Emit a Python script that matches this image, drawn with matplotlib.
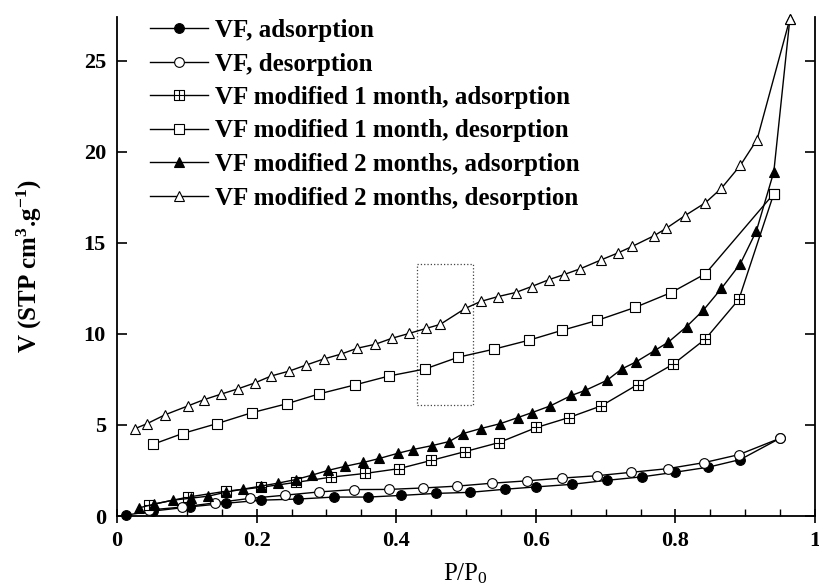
import matplotlib
matplotlib.use("Agg")
import matplotlib.pyplot as plt
from matplotlib.path import Path
from matplotlib.patches import Rectangle
from matplotlib.ticker import MultipleLocator

plt.rcParams['font.family'] = ['Liberation Serif', 'DejaVu Serif']
plt.rcParams['mathtext.default'] = 'regular'

# VF
vf_ads_x = [0.013, 0.051, 0.104, 0.156, 0.207, 0.259, 0.311, 0.36, 0.407, 0.457,
            0.506, 0.556, 0.601, 0.652, 0.702, 0.752, 0.799, 0.847, 0.893, 0.95]
vf_ads_y = [0.05, 0.27, 0.5, 0.7, 0.87, 0.93, 1.04, 1.04, 1.13, 1.24,
            1.3, 1.47, 1.6, 1.74, 1.96, 2.15, 2.4, 2.68, 3.1, 4.27]
vf_des_x = [0.95, 0.891, 0.841, 0.789, 0.737, 0.687, 0.637, 0.587, 0.537, 0.487,
            0.439, 0.389, 0.339, 0.289, 0.24, 0.191, 0.14, 0.093, 0.046]
vf_des_y = [4.27, 3.37, 2.93, 2.6, 2.4, 2.21, 2.08, 1.93, 1.8, 1.64,
            1.54, 1.46, 1.45, 1.32, 1.14, 0.97, 0.72, 0.49, 0.33]

# VF modified 1 month
m1_ads_x = [0.046, 0.102, 0.156, 0.207, 0.257, 0.306, 0.356, 0.404, 0.45, 0.499,
            0.547, 0.601, 0.647, 0.694, 0.746, 0.797, 0.843, 0.891, 0.941]
m1_ads_y = [0.6, 1.04, 1.36, 1.58, 1.85, 2.13, 2.34, 2.6, 3.05, 3.54,
            4.03, 4.86, 5.4, 6.05, 7.22, 8.34, 9.72, 11.9, 17.7]
m1_des_x = [0.941, 0.843, 0.794, 0.742, 0.688, 0.638, 0.59, 0.54, 0.489, 0.441,
            0.39, 0.341, 0.29, 0.243, 0.193, 0.143, 0.094, 0.051]
m1_des_y = [17.7, 13.3, 12.27, 11.45, 10.74, 10.2, 9.65, 9.16, 8.72, 8.07,
            7.69, 7.2, 6.71, 6.16, 5.67, 5.07, 4.53, 3.93]

# VF modified 2 months
m2_ads_x = [0.031, 0.053, 0.08, 0.106, 0.131, 0.156, 0.18, 0.206, 0.23, 0.256,
            0.279, 0.303, 0.327, 0.353, 0.376, 0.402, 0.424, 0.452, 0.476, 0.496,
            0.521, 0.549, 0.574, 0.594, 0.621, 0.651, 0.671, 0.702, 0.723, 0.743,
            0.771, 0.79, 0.816, 0.84, 0.866, 0.893, 0.916, 0.941, 0.964]
m2_ads_y = [0.44, 0.65, 0.87, 0.98, 1.09, 1.31, 1.47, 1.64, 1.8, 2.0,
            2.24, 2.51, 2.73, 2.94, 3.16, 3.44, 3.65, 3.87, 4.09, 4.53,
            4.8, 5.07, 5.4, 5.67, 6.05, 6.62, 6.9, 7.45, 8.07, 8.45,
            9.1, 9.55, 10.4, 11.3, 12.5, 13.85, 15.65, 18.9, 27.3]
m2_des_x = [0.964, 0.917, 0.893, 0.866, 0.843, 0.814, 0.787, 0.77, 0.738, 0.718,
            0.694, 0.664, 0.64, 0.619, 0.594, 0.571, 0.546, 0.521, 0.499, 0.463,
            0.443, 0.419, 0.394, 0.37, 0.344, 0.321, 0.296, 0.271, 0.247, 0.221,
            0.197, 0.173, 0.149, 0.124, 0.102, 0.069, 0.043, 0.026]
m2_des_y = [27.3, 20.67, 19.25, 18.0, 17.2, 16.5, 15.8, 15.4, 14.8, 14.45,
            14.07, 13.58, 13.25, 12.98, 12.6, 12.27, 12.05, 11.78, 11.4, 10.52,
            10.3, 10.03, 9.76, 9.43, 9.21, 8.89, 8.62, 8.29, 7.96, 7.69,
            7.3, 6.98, 6.69, 6.38, 6.05, 5.56, 5.07, 4.8]

labels = ["VF, adsorption", "VF, desorption",
          "VF modified 1 month, adsorption", "VF modified 1 month, desorption",
          "VF modified 2 months, adsorption", "VF modified 2 months, desorption"]

# square with a cross inside
sq_plus = Path([(-1, -1), (1, -1), (1, 1), (-1, 1), (-1, -1),
                (0, -1), (0, 1), (-1, 0), (1, 0)],
               [Path.MOVETO, Path.LINETO, Path.LINETO, Path.LINETO, Path.CLOSEPOLY,
                Path.MOVETO, Path.LINETO, Path.MOVETO, Path.LINETO])

fig = plt.figure(figsize=(8.19, 5.88), dpi=100)
ax = fig.add_axes([117/819, 1 - 516/588, 698/819, 499/588])

series = [(vf_ads_x, vf_ads_y, 'o', 'black'),
          (vf_des_x, vf_des_y, 'o', 'white'),
          (m1_ads_x, m1_ads_y, sq_plus, 'white'),
          (m1_des_x, m1_des_y, 's', 'white'),
          (m2_ads_x, m2_ads_y, '^', 'black'),
          (m2_des_x, m2_des_y, '^', 'white')]

for (xs, ys, mk, fc), lab in zip(series, labels):
    ms = 6.5 if mk is sq_plus else 7
    ax.plot(xs, ys, color='black', lw=1.0, marker=mk, ms=ms, mfc=fc,
            mec='black', mew=0.8, label=lab, clip_on=False, zorder=3)

ax.add_patch(Rectangle((0.43, 6.1), 0.08, 7.75, fill=False, ls=':', lw=0.9,
                       edgecolor='#444444'))

ax.set_xlim(0, 1)
ax.set_ylim(0, 27.4)
ax.spines['top'].set_visible(False)
for s in ['left', 'right', 'bottom']:
    ax.spines[s].set_linewidth(1.3)

ax.xaxis.set_major_locator(MultipleLocator(0.2))
ax.xaxis.set_minor_locator(MultipleLocator(0.05))
ax.yaxis.set_major_locator(MultipleLocator(5))
ax.set_xticks([0, 0.2, 0.4, 0.6, 0.8, 1])
ax.set_xticklabels(['0', '0.2', '0.4', '0.6', '0.8', '1'])
ax.tick_params(axis='x', which='major', direction='inout', length=10, width=1.2,
               labelsize=16, pad=6)
ax.tick_params(axis='x', which='minor', direction='in', length=5, width=1.0)
ax.tick_params(axis='y', which='major', direction='in', length=7, width=1.2,
               labelsize=16, right=True, pad=8)
for t in ax.get_xticklabels() + ax.get_yticklabels():
    t.set_fontweight('bold')

ax.set_ylabel("V (STP cm$^{3}$.g$^{-1}$)", fontsize=18, fontweight='bold')
ax.yaxis.set_label_coords(-0.104, 0.5)
ax.set_xlabel("P/P$_{0}$", fontsize=18)
ax.xaxis.set_label_coords(0.5, -0.09)

ax.legend(loc='upper left', bbox_to_anchor=(150/819, 1 - 19/588),
          bbox_transform=fig.transFigure, frameon=False, borderpad=0,
          borderaxespad=0, handlelength=2.3, handletextpad=0.3, labelspacing=0.42,
          prop={'weight': 'bold', 'size': 18})

fig.savefig("out.png", dpi=100)
